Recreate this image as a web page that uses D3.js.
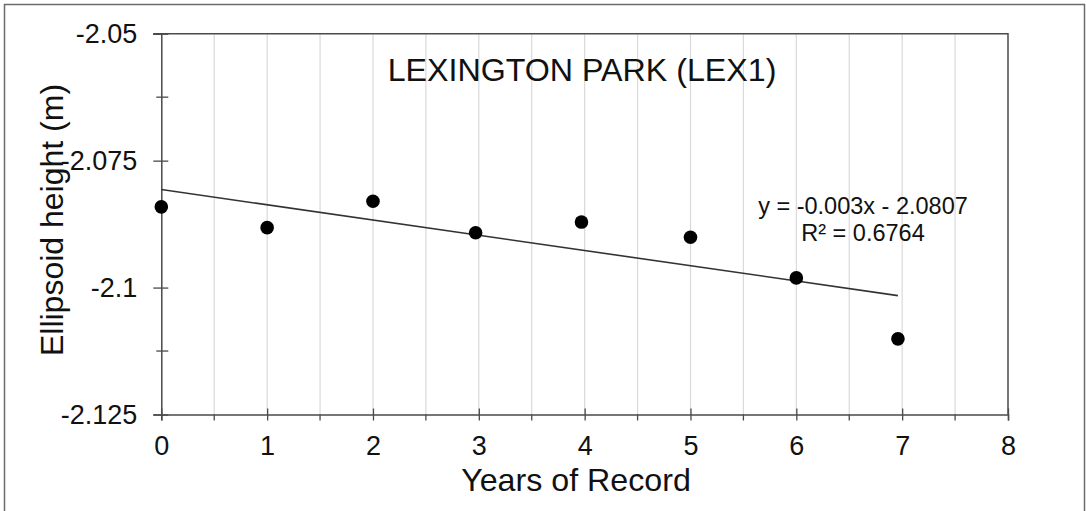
<!DOCTYPE html>
<html>
<head>
<meta charset="utf-8">
<script src="https://cdn.jsdelivr.net/npm/d3@7"></script>
<style>
  html, body { margin: 0; padding: 0; background: #fff; }
  svg { display: block; font-family: "Liberation Sans", Arial, sans-serif; }
</style>
</head>
<body>
<svg id="chart" width="1086" height="511"></svg>
<script>
// Observations: years since start of record vs. ellipsoid height (m)
const years   = [0, 1, 2, 2.97, 3.97, 5, 6, 6.96];
const heights = [-2.0841, -2.0882, -2.0830, -2.0892, -2.0871, -2.0901, -2.0981, -2.1101];

// Linear trend (as reported on the chart)
const trendSlope = -0.003;
const trendIntercept = -2.0807;
const trendLabel = ["y = -0.003x - 2.0807", "R² = 0.6764"];

const xTicks = [0, 1, 2, 3, 4, 5, 6, 7, 8];
const xMinorTicks = [0.5, 1.5, 2.5, 3.5, 4.5, 5.5, 6.5, 7.5];
const yTicks = [-2.05, -2.075, -2.1, -2.125];
const yMinorTicks = [-2.0625, -2.1125];
const yTickLabels = ["-2.05", "-2.075", "-2.1", "-2.125"];

const title = "LEXINGTON PARK (LEX1)";
const xTitle = "Years of Record";
const yTitle = "Ellipsoid height (m)";

const svg = d3.select("#chart");
const plot = { left: 161.3, right: 1008, top: 33.7, bottom: 414.5 };

const x = d3.scaleLinear().domain([0, 8]).range([plot.left, plot.right]);
const y = d3.scaleLinear().domain([-2.125, -2.05]).range([plot.bottom, plot.top]);

const axisColor = "#4a4a4a";

// outer frame
svg.append("rect")
  .attr("x", 4.5).attr("y", 4.5)
  .attr("width", 1080).attr("height", 520)
  .attr("fill", "none").attr("stroke", "#6b6b6b").attr("stroke-width", 1.5);

// vertical gridlines at half-year steps
svg.append("g").selectAll("line")
  .data(xTicks.concat(xMinorTicks).filter(d => d > 0 && d < 8))
  .join("line")
  .attr("x1", d => x(d)).attr("x2", d => x(d))
  .attr("y1", plot.top).attr("y2", plot.bottom)
  .attr("stroke", "#d9d9d9").attr("stroke-width", 1.2);

// top and right frame of the plot area
svg.append("path")
  .attr("d", `M${plot.left - 8},${plot.top}H${plot.right}V${plot.bottom}`)
  .attr("fill", "none").attr("stroke", axisColor).attr("stroke-width", 1.5);

// x axis
const xAxis = d3.axisBottom(x).tickValues(xTicks).tickSize(6).tickPadding(15)
  .tickFormat(d3.format("d"));
const gx = svg.append("g").attr("transform", `translate(0,${plot.bottom})`).call(xAxis);
gx.select(".domain").attr("stroke", axisColor).attr("stroke-width", 1.5);
gx.selectAll(".tick line").attr("stroke", axisColor).attr("stroke-width", 1.3)
  .attr("y1", -6).attr("y2", 6);
gx.selectAll(".tick text").attr("font-size", 27).attr("fill", "#111")
  .attr("font-family", "Liberation Sans, Arial, sans-serif");
svg.append("g").selectAll("line").data(xMinorTicks).join("line")
  .attr("x1", d => x(d)).attr("x2", d => x(d))
  .attr("y1", plot.bottom).attr("y2", plot.bottom + 6)
  .attr("stroke", axisColor).attr("stroke-width", 1.3);

// y axis
const yAxis = d3.axisLeft(y).tickValues(yTicks).tickSize(8).tickPadding(16)
  .tickFormat((d, i) => yTickLabels[i]);
const gy = svg.append("g").attr("transform", `translate(${plot.left},0)`).call(yAxis);
gy.select(".domain").attr("stroke", axisColor).attr("stroke-width", 1.5);
gy.selectAll(".tick line").attr("stroke", axisColor).attr("stroke-width", 1.3)
  .attr("x1", -8).attr("x2", 7);
gy.selectAll(".tick text").attr("font-size", 27).attr("fill", "#111")
  .attr("font-family", "Liberation Sans, Arial, sans-serif");
svg.append("g").selectAll("line").data(yMinorTicks).join("line")
  .attr("x1", plot.left - 5).attr("x2", plot.left + 7)
  .attr("y1", d => y(d)).attr("y2", d => y(d))
  .attr("stroke", axisColor).attr("stroke-width", 1.3);

// trend line across the observed span
const xEnd = d3.max(years);
svg.append("line")
  .attr("x1", x(0)).attr("y1", y(trendIntercept))
  .attr("x2", x(xEnd)).attr("y2", y(trendIntercept + trendSlope * xEnd))
  .attr("stroke", "#333").attr("stroke-width", 1.6);

// observations
svg.append("g").selectAll("circle")
  .data(years.map((d, i) => [d, heights[i]]))
  .join("circle")
  .attr("cx", d => x(d[0])).attr("cy", d => y(d[1]))
  .attr("r", 6.8).attr("fill", "#000");

// trend equation
svg.append("text")
  .attr("text-anchor", "middle").attr("font-size", 23.5).attr("fill", "#111")
  .selectAll("tspan").data(trendLabel).join("tspan")
  .attr("x", 863).attr("y", (d, i) => 214 + i * 27)
  .text(d => d);

// title
svg.append("text")
  .attr("x", 582).attr("y", 81)
  .attr("text-anchor", "middle").attr("font-size", 32.2).attr("fill", "#111")
  .text(title);

// axis titles
svg.append("text")
  .attr("x", 576).attr("y", 491)
  .attr("text-anchor", "middle").attr("font-size", 32.2).attr("fill", "#111")
  .text(xTitle);

svg.append("text")
  .attr("transform", "translate(63,220) rotate(-90)")
  .attr("text-anchor", "middle").attr("font-size", 32).attr("fill", "#111")
  .text(yTitle);
</script>
</body>
</html>
